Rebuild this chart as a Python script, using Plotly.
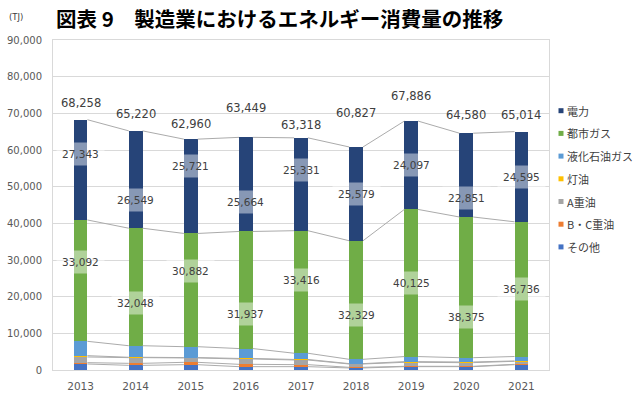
import plotly.graph_objects as go

# ---------------- data ----------------
years = ["2013", "2014", "2015", "2016", "2017", "2018", "2019", "2020", "2021"]
electricity = [27343, 26549, 25721, 25664, 25331, 25579, 24097, 22851, 24595]
city_gas = [33092, 32048, 30882, 31937, 33416, 32329, 40125, 38375, 36736]
lpg = [3913, 3153, 2967, 2698, 1691, 1179, 1384, 1164, 1213]
kerosene = [360, 100, 100, 150, 150, 100, 180, 180, 100]
a_heavy_oil = [1550, 1550, 1200, 1450, 1270, 910, 1090, 1000, 820]
bc_heavy_oil = [360, 550, 640, 640, 550, 180, 100, 100, 100]
other = [1640, 1270, 1450, 910, 910, 550, 910, 910, 1450]
totals = [68258, 65220, 62960, 63449, 63318, 60827, 67886, 64580, 65014]

# ---------------- style / layout ----------------
W, H = 638, 396
ML, MR, MT, MB = 53, 89, 40, 26
PW, PH = W - ML - MR, H - MT - MB
BAR_W = 0.25

def px(x):
    return (x - ML) / PW

def py(y):
    return (H - MB - y) / PH

series = [  # bottom to top
    ("その他", other, "#4472C4"),
    ("B・C重油", bc_heavy_oil, "#ED7D31"),
    ("A重油", a_heavy_oil, "#A5A5A5"),
    ("灯油", kerosene, "#FFC000"),
    ("液化石油ガス", lpg, "#5B9BD5"),
    ("都市ガス", city_gas, "#70AD47"),
    ("電力", electricity, "#264478"),
]

# label offsets (pixels) for manually placed labels
elec_shift = [16, -20, 20, -18, 14, 0, 0, -23, 0]
gas_shift = [19, -16, 19, -24, 12, -15, 0, -30, 0]
total_shift = [17, 17, 15, 29, 13, 34, 25, 18, 17]

NUM_FONT = "DejaVu Sans"
JP_FONT = "Noto Sans CJK JP"
TXT = "#404040"

xs = list(range(len(years)))
fig = go.Figure()

for name, vals, col in series:
    fig.add_trace(go.Bar(x=xs, y=vals, width=BAR_W, name=name,
                         marker=dict(color=col, line=dict(width=0)),
                         showlegend=False, hoverinfo="y+name"))

# series lines connecting segment tops between adjacent bars
cum = [0] * len(years)
lx, ly = [], []
levels = []
for name, vals, col in series:
    cum = [c + v for c, v in zip(cum, vals)]
    levels.append(cum)
    for i in range(len(years) - 1):
        lx += [i + BAR_W / 2, i + 1 - BAR_W / 2, None]
        ly += [cum[i], cum[i + 1], None]
fig.add_trace(go.Scatter(x=lx, y=ly, mode="lines",
                         line=dict(color="#ABABAB", width=1),
                         showlegend=False, hoverinfo="skip"))

ann = []
gas_top = levels[5]
gas_bottom = levels[4]
for i in xs:
    ann.append(dict(x=i, y=gas_top[i] + electricity[i] / 2, xref="x", yref="y",
                    text=f"{electricity[i]:,}", showarrow=False, yshift=elec_shift[i],
                    font=dict(family=NUM_FONT, size=10.5, color=TXT),
                    bgcolor="rgba(255,255,255,0.45)", borderpad=5))
    ann.append(dict(x=i, y=gas_bottom[i] + city_gas[i] / 2, xref="x", yref="y",
                    text=f"{city_gas[i]:,}", showarrow=False, yshift=gas_shift[i],
                    font=dict(family=NUM_FONT, size=10.5, color=TXT),
                    bgcolor="rgba(255,255,255,0.45)", borderpad=5))
    ann.append(dict(x=i, y=totals[i], xref="x", yref="y",
                    text=f"{totals[i]:,}", showarrow=False, yshift=total_shift[i],
                    font=dict(family=NUM_FONT, size=11.5, color=TXT)))

# title and unit
ann.append(dict(x=px(279), y=py(18), xref="paper", yref="paper", showarrow=False,
                xanchor="center", yanchor="middle",
                text="<b>図表 9　製造業におけるエネルギー消費量の推移</b>",
                font=dict(family=JP_FONT, size=20.5, color="#000000")))
ann.append(dict(x=px(16), y=py(17), xref="paper", yref="paper", showarrow=False,
                xanchor="center", yanchor="middle",
                text="(TJ)", font=dict(family=NUM_FONT, size=8.5, color=TXT)))

# legend (manual, top = 電力)
shapes = []
for k, (name, vals, col) in enumerate(reversed(series)):
    yc = 110.7 + k * 22.7
    shapes.append(dict(type="rect", xref="paper", yref="paper",
                       x0=px(558.5), x1=px(563.5), y0=py(yc + 2.5), y1=py(yc - 2.5),
                       fillcolor=col, line=dict(width=0)))
    ann.append(dict(x=px(564.5), y=py(yc), xref="paper", yref="paper", showarrow=False,
                    xanchor="left", yanchor="middle", text=name,
                    font=dict(family=JP_FONT, size=11, color=TXT)))

fig.update_layout(
    width=W, height=H, barmode="stack",
    margin=dict(l=ML, r=MR, t=MT, b=MB, autoexpand=False),
    plot_bgcolor="white", paper_bgcolor="white",
    annotations=ann, shapes=shapes, showlegend=False,
    xaxis=dict(range=[-0.5, len(years) - 0.5], tickvals=xs, ticktext=years,
               showgrid=False, zeroline=False, showline=True, linecolor="#D9D9D9",
               mirror=True, ticks="", ticklabelstandoff=6,
               tickfont=dict(family=NUM_FONT, size=10.5, color="#595959")),
    yaxis=dict(range=[0, 90000], dtick=10000, tickformat=",", showgrid=True,
               gridcolor="#D9D9D9", zeroline=False, showline=True, linecolor="#D9D9D9",
               mirror=True, ticks="", ticklabelstandoff=8,
               tickfont=dict(family=NUM_FONT, size=10, color="#595959")),
)

fig.write_html("out.html", config={"displayModeBar": False},
               post_script="document.body.style.margin='0';document.body.style.overflow='hidden';")
